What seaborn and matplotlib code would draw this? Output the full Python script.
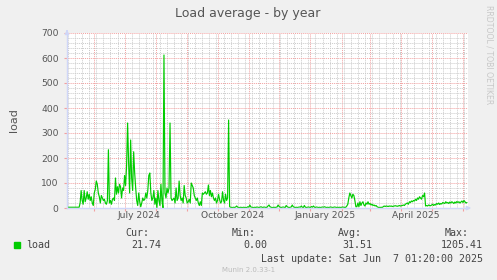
import numpy as np
import pandas as pd
import matplotlib
matplotlib.use("Agg")
import matplotlib.pyplot as plt
import matplotlib.dates as mdates
from matplotlib.ticker import MultipleLocator, NullFormatter
import matplotlib.transforms as mtrans
import seaborn as sns

# ---------------- data ----------------
start_date = "2024-05-05"
load_values = [
    3, 3, 3, 3, 3, 3, 3, 3, 3, 3,
    3, 3, 3, 20, 70, 30, 15, 70, 25, 40,
    65, 35, 55, 30, 45, 20, 10, 60, 75, 108,
    95, 60, 45, 20, 50, 40, 30, 35, 20, 15,
    30, 233, 20, 30, 15, 35, 40, 30, 120, 55,
    85, 60, 95, 85, 40, 80, 70, 130, 90, 170,
    340, 180, 60, 272, 120, 70, 225, 140, 80, 30,
    10, 60, 25, 5, 20, 40, 30, 35, 60, 40,
    70, 130, 140, 60, 30, 40, 70, 15, 40, 0,
    70, 30, 10, 95, 30, 0, 612, 60, 40, 80,
    60, 80, 340, 40, 30, 35, 40, 20, 80, 30,
    40, 108, 50, 30, 40, 20, 90, 50, 40, 20,
    25, 35, 20, 100, 90, 80, 50, 40, 30, 40,
    20, 10, 25, 10, 60, 55, 60, 65, 55, 60,
    92, 50, 70, 45, 60, 40, 30, 40, 20, 30,
    55, 35, 20, 25, 65, 30, 20, 55, 30, 40,
    352, 5, 3, 2, 2, 3, 2, 4, 8, 3,
    2, 2, 3, 2, 2, 3, 2, 2, 2, 5,
    3, 12, 4, 3, 2, 2, 3, 2, 4, 3,
    2, 3, 5, 3, 2, 4, 3, 2, 3, 8,
    12, 5, 3, 2, 2, 3, 2, 3, 4, 12,
    6, 3, 2, 3, 4, 3, 2, 10, 5, 3,
    2, 3, 4, 12, 5, 3, 2, 3, 2, 3,
    4, 3, 8, 3, 2, 10, 3, 2, 3, 4,
    3, 2, 6, 3, 8, 3, 2, 4, 3, 2,
    3, 2, 3, 4, 3, 5, 3, 2, 3, 2,
    3, 4, 3, 2, 3, 4, 3, 2, 3, 2,
    3, 2, 3, 4, 3, 2, 3, 8, 15, 40,
    60, 50, 40, 55, 50, 30, 5, 5, 20, 5,
    25, 10, 20, 25, 12, 8, 20, 15, 25, 15,
    18, 12, 15, 10, 12, 8, 10, 5, 3, 2,
    2, 3, 2, 5, 8, 6, 8, 7, 6, 8,
    7, 8, 6, 7, 8, 9, 8, 7, 8, 10,
    8, 9, 10, 12, 10, 15, 18, 20, 15, 25,
    22, 28, 25, 30, 28, 35, 30, 40, 35, 45,
    40, 35, 50, 45, 60, 8, 10, 8, 12, 10,
    9, 12, 15, 10, 14, 12, 18, 15, 20, 14,
    18, 16, 22, 20, 18, 25, 20, 22, 18, 24,
    20, 25, 22, 18, 24, 20, 26, 22, 25, 20,
    24, 28, 22, 30, 25, 20, 22,
]
x_start = "2024-05-05"
x_end = "2025-06-06"
xlabel_texts = ["July 2024", "October 2024", "January 2025", "April 2025"]
xlabel_dates = ["2024-07-15", "2024-10-16", "2025-01-15", "2025-04-15"]
y_max = 700

title = "Load average - by year"
ylabel = "load"
series_name = "load"
stat_names = ["Cur:", "Min:", "Avg:", "Max:"]
stat_values = ["21.74", "0.00", "31.51", "1205.41"]
last_update = "Last update: Sat Jun  7 01:20:00 2025"
footer = "Munin 2.0.33-1"
side_text = "RRDTOOL / TOBI OETIKER"

# ---------------- style ----------------
W, H = 497, 280
sns.set_style("white")
plt.rcParams["font.family"] = ["DejaVu Sans"]

GREEN = "#00CC00"
BACK = "#F0F0F0"
AXISC = "#CFD6F8"
FONTC = "#555555"
MGRID = "#F2A0A0"
GRID = "#CBCBCB"

fig = plt.figure(figsize=(W / 100, H / 100), dpi=100, facecolor=BACK)
ax = fig.add_axes([67 / W, 72 / H, 401 / W, 175 / H])
ax.set_facecolor("white")

df = pd.DataFrame({
    "date": pd.date_range(start_date, periods=len(load_values), freq="D"),
    "load": load_values,
})
sns.lineplot(data=df, x="date", y="load", color=GREEN, linewidth=0.85, ax=ax, zorder=3)

ax.set_xlim(pd.Timestamp(x_start), pd.Timestamp(x_end))
ax.set_ylim(0, y_max)

# grids
ax.yaxis.set_major_locator(MultipleLocator(100))
ax.yaxis.set_minor_locator(MultipleLocator(20))
ax.xaxis.set_major_locator(mdates.MonthLocator(bymonthday=1))
ax.xaxis.set_minor_locator(mdates.WeekdayLocator(byweekday=mdates.MO))
ax.xaxis.set_major_formatter(NullFormatter())
ax.xaxis.set_minor_formatter(NullFormatter())
ax.grid(which="minor", color=GRID, linestyle=(0, (1, 1)), linewidth=0.7, zorder=1)
ax.grid(which="major", color=MGRID, linestyle=(0, (1, 1)), linewidth=0.7, zorder=2)
ax.set_axisbelow(True)

ax.tick_params(axis="y", which="major", length=2, color=MGRID, labelsize=6.6,
               labelcolor=FONTC, pad=4, left=True)
ax.tick_params(axis="y", which="minor", length=0)
ax.tick_params(axis="x", which="major", length=2, color=MGRID, bottom=True)
ax.tick_params(axis="x", which="minor", length=0)

ax.set_xlabel("")
ax.set_ylabel(ylabel, fontsize=8, color=FONTC, labelpad=16)

for s in ["top", "right"]:
    ax.spines[s].set_visible(False)
for s in ["left", "bottom"]:
    ax.spines[s].set_color(AXISC)
    ax.spines[s].set_linewidth(1.0)
    ax.spines[s].set_zorder(4)

# arrows
ax.annotate("", xy=(1.015, 0), xytext=(0.99, 0), xycoords="axes fraction",
            arrowprops=dict(arrowstyle="-|>", color=AXISC, lw=1, mutation_scale=6),
            annotation_clip=False)
ax.annotate("", xy=(0, 1.035), xytext=(0, 0.99), xycoords="axes fraction",
            arrowprops=dict(arrowstyle="-|>", color=AXISC, lw=1, mutation_scale=6),
            annotation_clip=False)

# x labels at mid-quarter months
trans = mtrans.blended_transform_factory(ax.transData, ax.transAxes)
for d, t in zip(xlabel_dates, xlabel_texts):
    ax.text(mdates.date2num(pd.Timestamp(d)), -8 / 175, t, transform=trans,
            ha="center", va="center", fontsize=6.6, color=FONTC)

# title and side text
fig.text(248 / W, 1 - 13 / H, title, ha="center", va="center", fontsize=9, color=FONTC)
fig.text(489 / W, 1 - 5 / H, side_text, ha="center", va="top", rotation=-90,
         fontsize=5.6, color="#C8C8C8")

# legend block
mono = "DejaVu Sans Mono"
LEGC = "#444444"
fig.patches.append(plt.Rectangle((14 / W, 1 - 248 / H), 6 / W, 6 / H,
                                 transform=fig.transFigure, color=GREEN))
fig.text(26 / W, 1 - 245 / H, series_name, family=mono, fontsize=7.2,
         color=LEGC, ha="left", va="center")
name_x = [149, 256, 362, 469]
val_x = [161, 267, 372, 483]
for nx, vx, n, v in zip(name_x, val_x, stat_names, stat_values):
    fig.text(nx / W, 1 - 233 / H, n, family=mono, fontsize=7.2, color=LEGC,
             ha="right", va="center")
    fig.text(vx / W, 1 - 245 / H, v, family=mono, fontsize=7.2, color=LEGC,
             ha="right", va="center")
fig.text(483 / W, 1 - 258.5 / H, last_update, family=mono, fontsize=7.2,
         color=LEGC, ha="right", va="center")
fig.text(249 / W, 1 - 270 / H, footer, fontsize=5, color="#BBBBBB",
         ha="center", va="center")

fig.savefig("out.png", dpi=100, facecolor=BACK)
